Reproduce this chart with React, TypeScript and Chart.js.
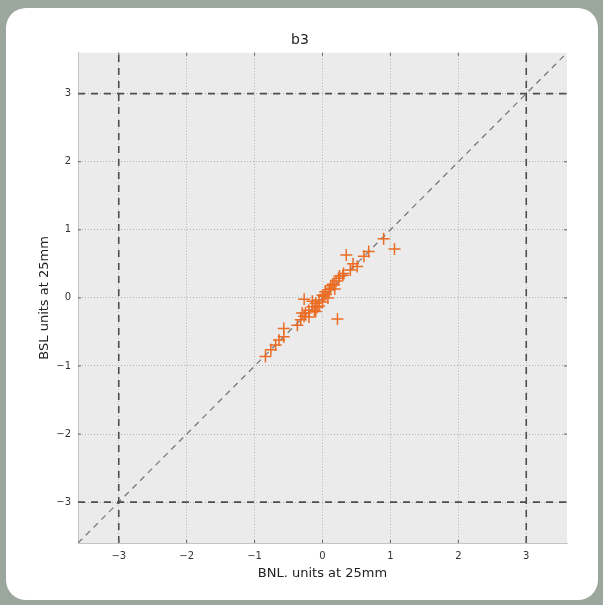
import React, { useEffect, useRef } from "react";
import { Chart, registerables } from "chart.js";

Chart.register(...registerables);

const TITLE = "b3";
const X_TITLE = "BNL. units at 25mm";
const Y_TITLE = "BSL units at 25mm";
const AXIS_MIN = -3.6;
const AXIS_MAX = 3.6;
const TICKS = [-3, -2, -1, 0, 1, 2, 3];

const BNL = [
  0.9, 1.06, 0.35, 0.68, 0.61, 0.51, 0.41, 0.31, 0.24, 0.17, 0.12, 0.04, 0.0,
  -0.27, -0.05, -0.1, -0.15, -0.2, -0.25, -0.27, -0.32, -0.37, 0.22, -0.57,
  -0.57, -0.64, -0.69, -0.76, -0.84, 0.05, 0.1, -0.05, 0.15, 0.2, -0.15, -0.2,
  0.08, -0.1, 0.0, 0.25, -0.3, 0.12, 0.18, -0.08, 0.02, 0.3, -0.12, 0.45,
];
const BSL = [
  0.87, 0.72, 0.63, 0.68, 0.61, 0.46, 0.41, 0.36, 0.29, 0.19, 0.14, 0.09, 0.04,
  -0.02, -0.03, -0.08, -0.13, -0.18, -0.22, -0.27, -0.32, -0.4, -0.31, -0.45,
  -0.57, -0.62, -0.69, -0.76, -0.86, 0.05, 0.12, -0.12, 0.2, 0.25, -0.05,
  -0.28, 0.0, -0.2, -0.06, 0.32, -0.22, 0.18, 0.13, -0.14, 0.02, 0.33, -0.18,
  0.5,
];

const LIMIT_X = [-3, 3];
const LIMIT_Y = [-3, 3];
const DIAG = [AXIS_MIN, AXIS_MAX];

const areaBg = {
  id: "areaBg",
  beforeDraw(chart: any) {
    const { ctx, chartArea: a } = chart;
    ctx.save();
    ctx.fillStyle = "#ebebeb";
    ctx.fillRect(a.left, a.top, a.right - a.left, a.bottom - a.top);
    ctx.restore();
  },
};

const innerTicks = {
  id: "innerTicks",
  afterDatasetsDraw(chart: any) {
    const { ctx, chartArea: a, scales } = chart;
    ctx.save();
    ctx.strokeStyle = "#666";
    ctx.lineWidth = 1;
    const len = 3;
    TICKS.forEach((v) => {
      const px = scales.x.getPixelForValue(v);
      const py = scales.y.getPixelForValue(v);
      ctx.beginPath();
      ctx.moveTo(px, a.bottom);
      ctx.lineTo(px, a.bottom - len);
      ctx.moveTo(px, a.top);
      ctx.lineTo(px, a.top + len);
      ctx.moveTo(a.left, py);
      ctx.lineTo(a.left + len, py);
      ctx.moveTo(a.right, py);
      ctx.lineTo(a.right - len, py);
      ctx.stroke();
    });
    ctx.restore();
  },
};

const fmt = (v: any) => (Number(v) < 0 ? "\u2212" + Math.abs(Number(v)) : String(v));

export default function App() {
  const ref = useRef<HTMLCanvasElement>(null);

  useEffect(() => {
    if (!ref.current) return;
    const lineStyle = {
      type: "line" as const,
      showLine: true,
      pointRadius: 0,
      fill: false,
    };
    const datasets: any[] = [
      {
        ...lineStyle,
        data: DIAG.map((v) => ({ x: v, y: v })),
        borderColor: "#7a7a7a",
        borderWidth: 1.3,
        borderDash: [6, 5],
        order: 3,
      },
      ...LIMIT_X.map((v) => ({
        ...lineStyle,
        data: [
          { x: v, y: AXIS_MIN },
          { x: v, y: AXIS_MAX },
        ],
        borderColor: "#4d4d4d",
        borderWidth: 1.6,
        borderDash: [7, 6],
        order: 2,
      })),
      ...LIMIT_Y.map((v) => ({
        ...lineStyle,
        data: [
          { x: AXIS_MIN, y: v },
          { x: AXIS_MAX, y: v },
        ],
        borderColor: "#4d4d4d",
        borderWidth: 1.6,
        borderDash: [7, 6],
        order: 2,
      })),
      {
        type: "scatter",
        data: BNL.map((x, i) => ({ x, y: BSL[i] })),
        pointStyle: "cross",
        pointRadius: 6,
        borderWidth: 1.5,
        borderColor: "#eb6c24",
        backgroundColor: "#eb6c24",
        order: 1,
      },
    ];

    const gridCfg = {
      color: "#b4b4b4",
      lineWidth: 1,
      drawTicks: false,
    };
    const borderCfg = { display: true, color: "#c4c4c4", width: 1, dash: [1, 2] };
    const chart = new Chart(ref.current, {
      type: "scatter",
      data: { datasets },
      plugins: [areaBg, innerTicks],
      options: {
        animation: false,
        responsive: false,
        layout: { padding: { left: 33, right: 36, top: 22, bottom: 20 } },
        plugins: {
          legend: { display: false },
          tooltip: { enabled: false },
          title: {
            display: true,
            text: TITLE,
            color: "#222",
            font: { family: "DejaVu Sans", size: 14, weight: "normal" },
            padding: { top: 10, bottom: 4 },
          },
        },
        scales: {
          x: {
            type: "linear",
            min: AXIS_MIN,
            max: AXIS_MAX,
            afterBuildTicks: (s: any) => {
              s.ticks = TICKS.map((v) => ({ value: v }));
            },
            afterFit: (s: any) => {
              s.height = 42;
            },
            grid: { ...gridCfg },
            border: { ...borderCfg },
            ticks: {
              padding: 7,
              color: "#333",
              font: { family: "DejaVu Sans", size: 10 },
              callback: (v: any) => fmt(v),
            },
            title: {
              display: true,
              text: X_TITLE,
              color: "#222",
              font: { family: "DejaVu Sans", size: 13 },
              padding: { top: 2, bottom: 4 },
            },
          },
          y: {
            type: "linear",
            min: AXIS_MIN,
            max: AXIS_MAX,
            afterBuildTicks: (s: any) => {
              s.ticks = TICKS.map((v) => ({ value: v }));
            },
            afterFit: (s: any) => {
              s.width = 45;
            },
            grid: { ...gridCfg },
            border: { ...borderCfg },
            ticks: {
              padding: 7,
              color: "#333",
              font: { family: "DejaVu Sans", size: 10 },
              callback: (v: any) => fmt(v),
            },
            title: {
              display: true,
              text: Y_TITLE,
              color: "#222",
              font: { family: "DejaVu Sans", size: 13 },
              padding: { top: 4, bottom: 2 },
            },
          },
        },
      } as any,
    });
    return () => chart.destroy();
  }, []);

  return (
    <div
      style={{
        position: "fixed",
        left: 0,
        top: 0,
        width: 603,
        height: 605,
        background: "#9ba69d",
        overflow: "hidden",
      }}
    >
      <div
        style={{
          position: "absolute",
          left: 6,
          top: 8,
          width: 592,
          height: 592,
          background: "#ffffff",
          borderRadius: 20,
        }}
      />
      <canvas
        ref={ref}
        width={603}
        height={605}
        style={{ position: "absolute", left: 0, top: 0, width: 603, height: 605 }}
      />
    </div>
  );
}
